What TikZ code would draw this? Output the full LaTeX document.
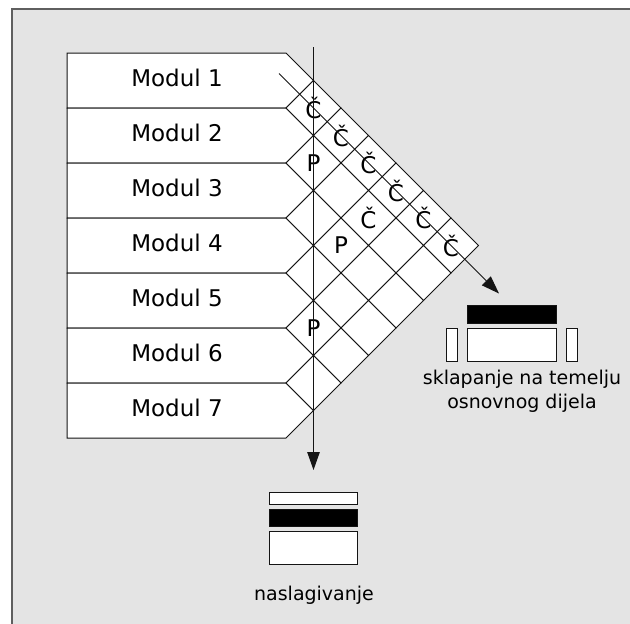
\documentclass[tikz,border=0pt]{standalone}
\usepackage{fontspec}
\setmainfont{DejaVu Sans}
\usetikzlibrary{arrows.meta}
\definecolor{bggray}{RGB}{228,228,228}
\definecolor{framegray}{RGB}{95,95,95}
\definecolor{inkcol}{RGB}{20,20,20}
\tikzset{
  rowbox/.style={draw=inkcol, fill=white, line width=1pt, line join=miter},
  cellbox/.style={draw=inkcol, fill=white, line width=1pt},
  modlabel/.style={anchor=base, inner sep=0pt, font=\fontsize{23}{27}\selectfont},
  celltext/.style={inner sep=0pt, font=\fontsize{23}{25}\selectfont},
  captext/.style={inner sep=0pt, font=\fontsize{19}{24.4}\selectfont, align=center},
  flow/.style={draw=inkcol, line width=1pt, -{Triangle[length=18pt,width=12.5pt]}},
  whitebar/.style={draw=inkcol, fill=white, line width=1pt},
  blackbar/.style={draw=inkcol, fill=black, line width=1pt}
}
\begin{document}
\begin{tikzpicture}[x=1pt,y=-1pt]
\useasboundingbox (0,0) rectangle (630,624);
% frame
\fill[bggray] (12,9) rectangle (630,624);
\draw[framegray, line width=1.5pt] (12,624) -- (12,9) -- (630,9);
% module rows
\foreach \k [evaluate=\k as \t using 53+55*(\k-1),
             evaluate=\k as \b using 108+55*(\k-1),
             evaluate=\k as \m using 80.5+55*(\k-1)] in {1,...,7} {
  \draw[rowbox] (67,\t) -- (286,\t) -- (313.5,\m) -- (286,\b) -- (67,\b) -- cycle;
  \node[modlabel] (m\k) at (177,\m+6) {Modul \k};
}
% triangular matrix cells
\foreach \i in {1,...,6} {
  \pgfmathtruncatemacro\ii{\i+1}
  \foreach \j in {\ii,...,7} {
    \pgfmathsetmacro\cx{286+27.5*(\j-\i)}
    \pgfmathsetmacro\cy{80.5+27.5*(\i+\j-2)}
    \draw[cellbox] (\cx-27.5,\cy) -- (\cx,\cy-27.5) -- (\cx+27.5,\cy) -- (\cx,\cy+27.5) -- cycle;
    \coordinate (c\i\j) at (\cx,\cy);
  }
}
% cell entries
\foreach \j in {2,...,7} { \node[celltext] (t1\j) at (c1\j) {Č}; }
\node[celltext] (t25) at (c25) {Č};
\node[celltext] (t23) at (c23) {P};
\node[celltext] (t35) at (c35) {P};
\node[celltext] (t56) at (c56) {P};
% arrows
\coordinate (vtop) at (313.5,47);
\coordinate (vbot) at (313.5,470);
\draw[flow] (vtop) -- (vbot);
\coordinate (dstart) at (279,73.5);
\coordinate (dend) at (499,293.5);
\draw[flow] (dstart) -- (dend);
% assembly icon (right)
\draw[blackbar] (467,305) rectangle (556,323);
\draw[whitebar] (467,328) rectangle (556,361);
\draw[whitebar] (446,328) rectangle (457,361);
\draw[whitebar] (566,328) rectangle (577,361);
\node[captext, anchor=base] (cap1) at (522,408.7) {sklapanje na temelju\\osnovnog dijela};
% stacking icon (bottom)
\draw[whitebar] (269.3,492.7) rectangle (357.7,504);
\draw[blackbar] (269.3,509.3) rectangle (357.7,526.7);
\draw[whitebar] (269.3,531.7) rectangle (357.7,564.3);
\node[captext, anchor=base] (cap2) at (314,600) {naslagivanje};
\end{tikzpicture}
\end{document}
